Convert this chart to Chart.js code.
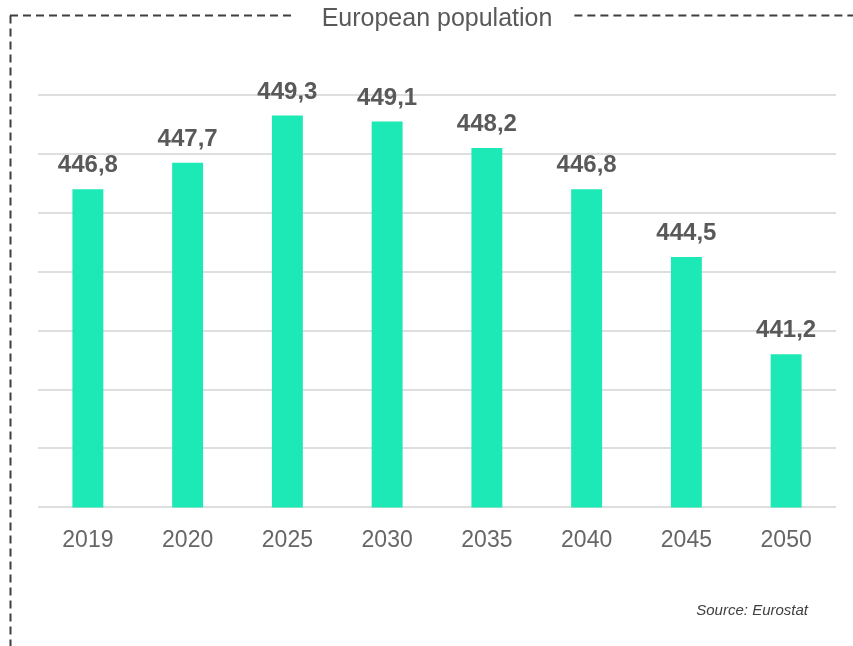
<!DOCTYPE html>
<html>
<head>
<meta charset="utf-8">
<title>European population</title>
<script src="https://cdn.jsdelivr.net/npm/chart.js@4.4.1/dist/chart.umd.min.js"></script>
<style>
  html, body { margin: 0; padding: 0; background: #ffffff; }
  #wrap { width: 853px; height: 646px; }
</style>
</head>
<body>
<div id="wrap"><canvas id="myChart" width="853" height="646"></canvas></div>
<script>
// Data
const years = ['2019', '2020', '2025', '2030', '2035', '2040', '2045', '2050'];
const population = [446.8, 447.7, 449.3, 449.1, 448.2, 446.8, 444.5, 441.2]; // millions
const yMin = 436;
const yMax = 450;
const yStep = 2;
const titleText = 'European population';
const sourceText = 'Source: Eurostat';

const FONT = "'Liberation Sans', Arial, Helvetica, sans-serif";

// dashed frame round the chart (top and left), broken by the title
const framePlugin = {
    id: 'frame',
    beforeDraw(chart) {
        const ctx = chart.ctx;
        ctx.save();
        ctx.font = '25px ' + FONT;
        const w = ctx.measureText(titleText).width;
        const cx = (chart.chartArea.left + chart.chartArea.right) / 2;
        const y = 15.5;
        ctx.strokeStyle = '#3f3f3f';
        ctx.lineWidth = 2;
        ctx.setLineDash([8, 5]);
        ctx.beginPath();
        ctx.moveTo(10, y);
        ctx.lineTo(cx - w / 2 - 27, y);
        ctx.moveTo(cx + w / 2 + 22, y);
        ctx.lineTo(chart.width, y);
        ctx.moveTo(10.5, y);
        ctx.lineTo(10.5, chart.height);
        ctx.stroke();
        ctx.restore();
    }
};

// value labels over the bars + source note
const labelPlugin = {
    id: 'valueLabels',
    afterDatasetsDraw(chart) {
        const ctx = chart.ctx;
        const meta = chart.getDatasetMeta(0);
        ctx.save();
        ctx.font = 'bold 24px ' + FONT;
        ctx.fillStyle = '#595959';
        ctx.textAlign = 'center';
        ctx.textBaseline = 'alphabetic';
        meta.data.forEach((bar, i) => {
            const txt = population[i].toFixed(1).replace('.', ',');
            ctx.fillText(txt, bar.x, bar.y - 17);
        });
        ctx.font = 'italic 15px ' + FONT;
        ctx.fillStyle = '#404040';
        ctx.textAlign = 'right';
        ctx.textBaseline = 'middle';
        ctx.fillText(sourceText, 808, 611);
        ctx.restore();
    }
};

new Chart(document.getElementById('myChart'), {
    type: 'bar',
    data: {
        labels: years,
        datasets: [{
            data: population,
            backgroundColor: '#1de9b6',
            borderWidth: 0,
            barPercentage: 0.31,
            categoryPercentage: 1
        }]
    },
    options: {
        responsive: false,
        animation: false,
        layout: {
            padding: { left: 38, right: 17, top: 0, bottom: 73 }
        },
        plugins: {
            legend: { display: false },
            tooltip: { enabled: false },
            title: {
                display: true,
                text: titleText,
                color: '#595959',
                font: { family: FONT, size: 25, weight: 'normal' },
                padding: { top: 4, bottom: 61 }
            }
        },
        scales: {
            x: {
                grid: { display: false, drawTicks: false },
                border: { display: false },
                ticks: {
                    color: '#666666',
                    font: { family: FONT, size: 23 },
                    padding: 19
                }
            },
            y: {
                min: yMin,
                max: yMax,
                ticks: { display: false, stepSize: yStep },
                grid: { color: '#dedede', lineWidth: 2, drawTicks: false },
                border: { display: false }
            }
        }
    },
    plugins: [framePlugin, labelPlugin]
});
</script>
</body>
</html>
